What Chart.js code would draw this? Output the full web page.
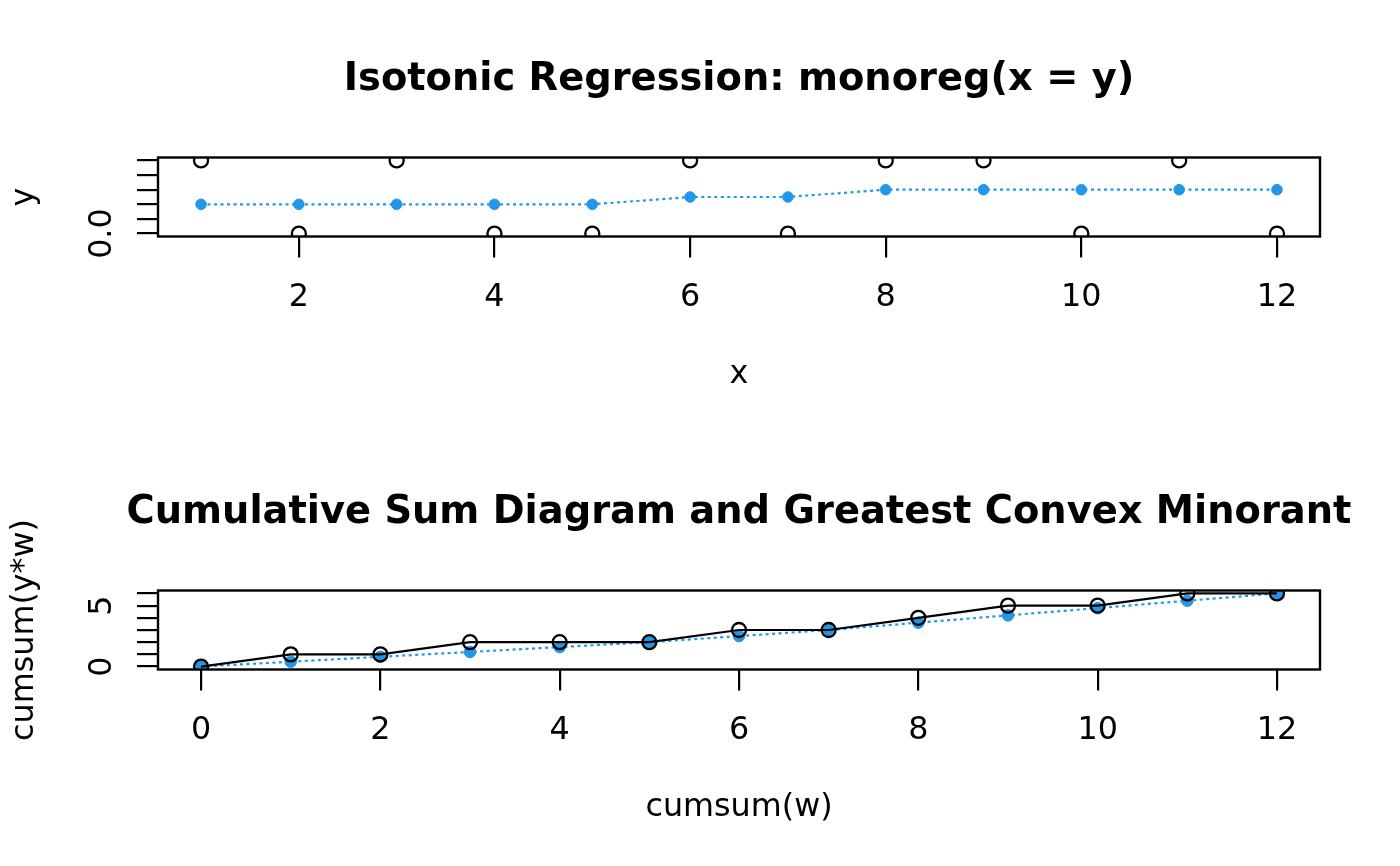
<!DOCTYPE html>
<html>
<head>
<meta charset="utf-8">
<script src="https://cdn.jsdelivr.net/npm/chart.js@4/dist/chart.umd.min.js"></script>
<style>
  body { margin: 0; background: #fff; }
  canvas { display: block; }
</style>
</head>
<body>
<canvas id="topChart" width="1400" height="433"></canvas>
<canvas id="bottomChart" width="1400" height="433"></canvas>
<script>
// top panel: isotonic regression
const xValues = [1, 2, 3, 4, 5, 6, 7, 8, 9, 10, 11, 12];
const yValues = [1, 0, 1, 0, 0, 1, 0, 1, 1, 0, 1, 0];
const yFitted = [0.4, 0.4, 0.4, 0.4, 0.4, 0.5, 0.5, 0.6, 0.6, 0.6, 0.6, 0.6];
const topXTicks = [2, 4, 6, 8, 10, 12];
const topXLabels = ['2', '4', '6', '8', '10', '12'];
const topYTicks = [0, 0.2, 0.4, 0.6, 0.8, 1.0];
const topYLabels = ['0.0', '', '', '', '', ''];

// bottom panel: cumulative sum diagram
const cumW = [0, 1, 2, 3, 4, 5, 6, 7, 8, 9, 10, 11, 12];
const cumYW = [0, 1, 1, 2, 2, 2, 3, 3, 4, 5, 5, 6, 6];
const gcm = [0, 0.4, 0.8, 1.2, 1.6, 2.0, 2.5, 3.0, 3.6, 4.2, 4.8, 5.4, 6.0];
const botXTicks = [0, 2, 4, 6, 8, 10, 12];
const botXLabels = ['0', '2', '4', '6', '8', '10', '12'];
const botYTicks = [0, 1, 2, 3, 4, 5, 6];
const botYLabels = ['0', '', '', '', '', '5', ''];

const BLUE = '#2297E6';
const FONT = '"DejaVu Sans", sans-serif';

function pts(xs, ys) {
  return xs.map((x, i) => ({ x: x, y: ys[i] }));
}

// R-style box, titles, tick labels and axis labels
const rPlot = {
  id: 'rPlot',
  afterDraw(chart, args, opts) {
    const ctx = chart.ctx;
    const a = chart.chartArea;
    const xs = chart.scales.x, ys = chart.scales.y;
    const midX = (a.left + a.right) / 2;
    const midY = (a.top + a.bottom) / 2;
    ctx.save();
    ctx.strokeStyle = '#000';
    ctx.lineWidth = 2.4;
    ctx.strokeRect(a.left, a.top, a.right - a.left, a.bottom - a.top);

    ctx.fillStyle = '#000';
    ctx.textAlign = 'center';
    ctx.textBaseline = 'alphabetic';
    ctx.font = 'bold 38.4px ' + FONT;
    ctx.fillText(opts.title, midX, 90);

    ctx.font = '31.8px ' + FONT;
    opts.xTicks.forEach((v, i) => {
      ctx.fillText(opts.xLabels[i], xs.getPixelForValue(v), 306);
    });
    ctx.fillText(opts.xTitle, midX, 383);

    opts.yTicks.forEach((v, i) => {
      if (!opts.yLabels[i]) return;
      ctx.save();
      ctx.translate(111, ys.getPixelForValue(v));
      ctx.rotate(-Math.PI / 2);
      ctx.fillText(opts.yLabels[i], 0, 0);
      ctx.restore();
    });
    ctx.save();
    ctx.translate(33, midY);
    ctx.rotate(-Math.PI / 2);
    ctx.fillText(opts.yTitle, 0, 0);
    ctx.restore();
    ctx.restore();
  }
};

function axis(min, max, ticks, fitKey) {
  return {
    type: 'linear',
    min: min,
    max: max,
    afterBuildTicks: s => { s.ticks = ticks.map(v => ({ value: v })); },
    afterFit: s => { s[fitKey] = 60; },
    ticks: { display: false },
    grid: { drawOnChartArea: false, drawTicks: true, tickLength: 21, color: '#000', lineWidth: 2.2 },
    border: { display: false }
  };
}

function makeChart(id, datasets, sc, texts) {
  return new Chart(document.getElementById(id), {
    type: 'scatter',
    data: { datasets: datasets },
    options: {
      responsive: false,
      animation: false,
      devicePixelRatio: 1,
      layout: { padding: { left: 98, right: 80, top: 157.5, bottom: 136.5 } },
      scales: {
        x: axis(sc.xmin, sc.xmax, texts.xTicks, 'height'),
        y: axis(sc.ymin, sc.ymax, texts.yTicks, 'width')
      },
      plugins: {
        legend: { display: false },
        tooltip: { enabled: false },
        rPlot: texts
      }
    },
    plugins: [rPlot]
  });
}

makeChart('topChart', [
  {
    data: pts(xValues, yValues),
    showLine: false,
    pointRadius: 7,
    pointBorderWidth: 2.3,
    pointBorderColor: '#000',
    pointBackgroundColor: 'rgba(0,0,0,0)',
    clip: 0
  },
  {
    data: pts(xValues, yFitted),
    showLine: true,
    borderColor: BLUE,
    borderWidth: 2.2,
    borderDash: [3, 3.5],
    pointRadius: 5.3,
    pointBorderWidth: 1,
    pointBorderColor: BLUE,
    pointBackgroundColor: BLUE,
    clip: 0
  }
], { xmin: 0.56, xmax: 12.44, ymin: -0.04, ymax: 1.04 }, {
  title: 'Isotonic Regression: monoreg(x = y)',
  xTitle: 'x',
  yTitle: 'y',
  xTicks: topXTicks, xLabels: topXLabels,
  yTicks: topYTicks, yLabels: topYLabels
});

makeChart('bottomChart', [
  {
    data: pts(cumW, cumYW),
    showLine: true,
    borderColor: '#000',
    borderWidth: 2.2,
    pointRadius: 7,
    pointBorderWidth: 2.3,
    pointBorderColor: '#000',
    pointBackgroundColor: 'rgba(0,0,0,0)',
    clip: 0
  },
  {
    data: pts(cumW, gcm),
    showLine: true,
    borderColor: BLUE,
    borderWidth: 2.2,
    borderDash: [3, 3.5],
    pointRadius: 5.8,
    pointBorderWidth: 1,
    pointBorderColor: BLUE,
    pointBackgroundColor: BLUE,
    clip: 0
  }
], { xmin: -0.48, xmax: 12.48, ymin: -0.24, ymax: 6.24 }, {
  title: 'Cumulative Sum Diagram and Greatest Convex Minorant',
  xTitle: 'cumsum(w)',
  yTitle: 'cumsum(y*w)',
  xTicks: botXTicks, xLabels: botXLabels,
  yTicks: botYTicks, yLabels: botYLabels
});
</script>
</body>
</html>
